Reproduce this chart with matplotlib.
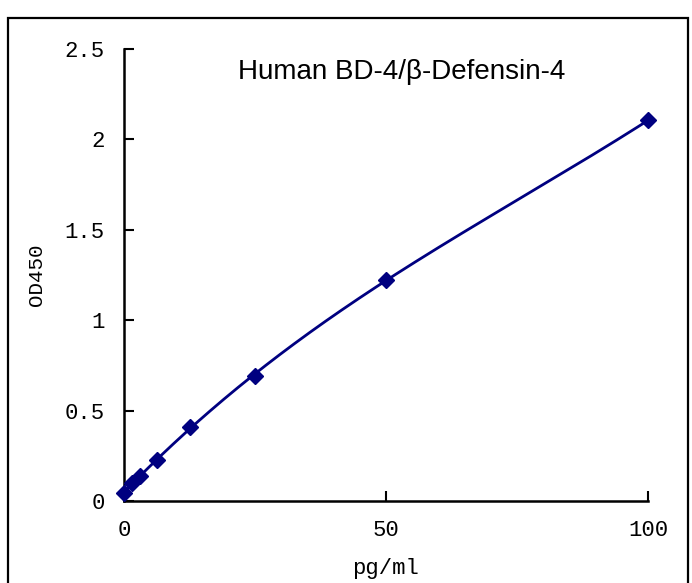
import matplotlib
matplotlib.use("Agg")
import matplotlib.pyplot as plt
from matplotlib.patches import Rectangle
import numpy as np

# standard concentrations (pg/ml) and measured OD450
conc = [0, 1.5625, 3.125, 6.25, 12.5, 25, 50, 100]
od450 = [0.043, 0.100, 0.136, 0.228, 0.412, 0.692, 1.222, 2.105]
x_ticks = [0, 50, 100]
y_ticks = [0, 0.5, 1, 1.5, 2, 2.5]
title = "Human BD-4/\u03b2-Defensin-4"

mono = "Liberation Mono"
color = "#000080"

fig = plt.figure(figsize=(6.92, 5.83), dpi=100)
ax = fig.add_axes([124 / 692, 1 - 501 / 583, 524 / 692, 452 / 583])

# fitted standard curve
coef = np.polyfit(conc, od450, 3)
xs = np.linspace(0, 100, 300)
ax.plot(xs, np.polyval(coef, xs), color=color, linewidth=2, zorder=2)
ax.plot(conc, od450, linestyle="none", marker="D", markersize=8.5,
        color=color, zorder=3, clip_on=False)

ax.set_xlim(0, 100)
ax.set_ylim(0, 2.5)
ax.set_xticks(x_ticks)
ax.set_xticklabels([str(v) for v in x_ticks])
ax.set_yticks(y_ticks)
ax.set_yticklabels(["0", "0.5", "1", "1.5", "2", "2.5"])
ax.tick_params(direction="in", length=7, width=1.5, pad=14, labelsize=16)
for lab in ax.get_xticklabels() + ax.get_yticklabels():
    lab.set_fontfamily(mono)

for side in ["top", "right"]:
    ax.spines[side].set_visible(False)
for side in ["left", "bottom"]:
    ax.spines[side].set_linewidth(1.8)

ax.set_xlabel("pg/ml", fontfamily=mono, fontsize=16, labelpad=12)
ax.set_ylabel("OD450", fontfamily=mono, fontsize=15, labelpad=13)
ax.text(0.529, 0.949, title, transform=ax.transAxes, ha="center", va="center",
        fontfamily="Liberation Sans", fontsize=20)

# outer frame
fig.patches.append(Rectangle((8 / 692, -0.1), 680 / 692, 1.1 - 18 / 583,
                             transform=fig.transFigure, fill=False,
                             edgecolor="black", linewidth=1.6))

fig.savefig("out.png", dpi=100)
